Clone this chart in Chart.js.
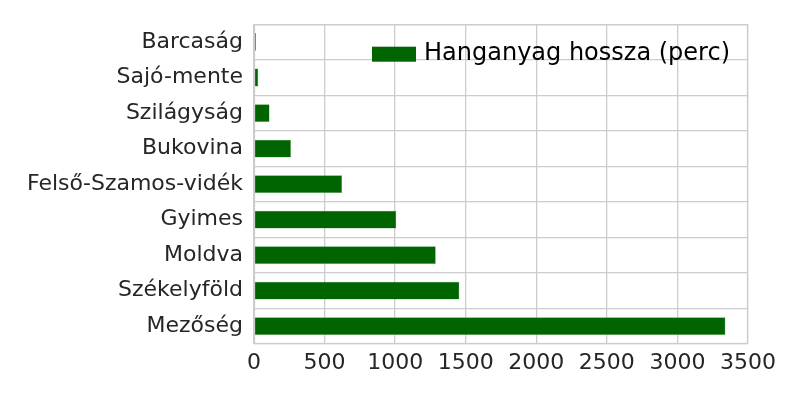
<!DOCTYPE html>
<html>
<head>
<meta charset="utf-8">
<script src="https://cdn.jsdelivr.net/npm/chart.js@4"></script>
<style>
  body { margin: 0; background: #fff; }
  #wrap { width: 800px; height: 400px; }
</style>
</head>
<body>
<div id="wrap"><canvas id="myChart"></canvas></div>
<script>
const regions = ["Barcaság", "Sajó-mente", "Szilágyság", "Bukovina", "Felső-Szamos-vidék", "Gyimes", "Moldva", "Székelyföld", "Mezőség"];
const minutes = [15, 30, 110, 262, 624, 1008, 1288, 1455, 3340];
const seriesLabel = "Hanganyag hossza (perc)";
const barColor = "#006400";

// frame round the plot area + legend inside it (top right)
const frame = {
  id: "frame",
  afterDraw(chart) {
    const a = chart.chartArea, c = chart.ctx;
    c.save();
    c.strokeStyle = "#cccccc";
    c.lineWidth = 1.3;
    c.strokeRect(a.left + 0.5, a.top + 0.5, a.right - a.left - 1, a.bottom - a.top - 1);
    c.font = "24px 'DejaVu Sans'";
    const tw = c.measureText(seriesLabel).width;
    const tx = a.right - 18 - tw;
    const y = a.top + 30;
    c.fillStyle = barColor;
    c.fillRect(tx - 52, y - 7.5, 44, 15);
    c.fillStyle = "#000";
    c.textBaseline = "middle";
    c.fillText(seriesLabel, tx, y);
    c.restore();
  }
};

let ctx = document.getElementById("myChart").getContext("2d");
new Chart(ctx, {
  type: "bar",
  data: {
    labels: regions,
    datasets: [{
      label: seriesLabel,
      data: minutes,
      backgroundColor: barColor,
      borderColor: "#5fa85f",
      borderWidth: 0.5,
      barPercentage: 0.5,
      categoryPercentage: 1
    }]
  },
  options: {
    indexAxis: "y",
    responsive: true,
    maintainAspectRatio: false,
    animation: false,
    layout: { padding: { top: 22, right: 52, left: 0, bottom: 0 } },
    scales: {
      x: {
        min: 0, max: 3500,
        ticks: {
          stepSize: 500, color: "#262626", font: { family: "DejaVu Sans", size: 22 }, padding: 6,
          callback: v => String(v)
        },
        grid: { color: "#cccccc", lineWidth: 1.3, drawTicks: false },
        border: { display: false },
        afterFit(s) { s.height = 56; }
      },
      y: {
        ticks: { color: "#262626", font: { family: "DejaVu Sans", size: 22 }, padding: 11 },
        grid: { color: "#cccccc", lineWidth: 1.3, drawTicks: false },
        border: { display: false },
        afterFit(s) { s.width = 254; }
      }
    },
    plugins: {
      legend: { display: false },
      tooltip: { enabled: false }
    }
  },
  plugins: [frame]
});
</script>
</body>
</html>
